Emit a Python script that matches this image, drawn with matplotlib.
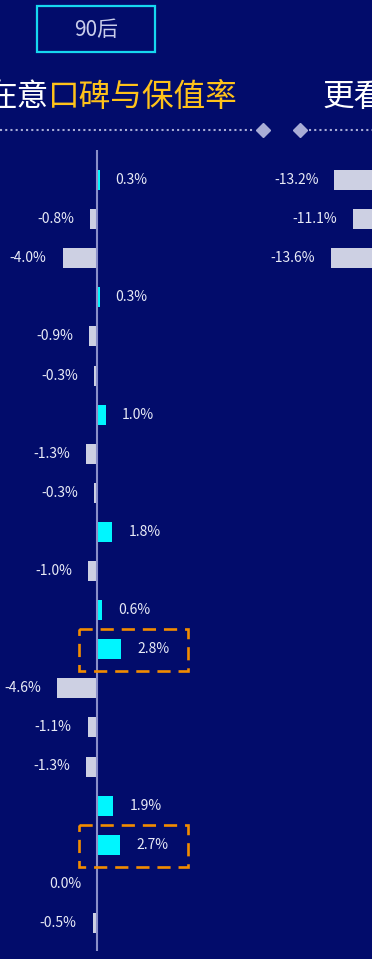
import matplotlib
matplotlib.use("Agg")
import matplotlib.pyplot as plt
from matplotlib.patches import Rectangle
from matplotlib.lines import Line2D
import numpy as np

plt.rcParams['font.family'] = ['Noto Sans CJK SC', 'DejaVu Sans']

# ---- data -------------------------------------------------------------
left_values = [0.3, -0.8, -4.0, 0.3, -0.9, -0.3, 1.0, -1.3, -0.3, 1.8,
               -1.0, 0.6, 2.8, -4.6, -1.1, -1.3, 1.9, 2.7, 0.0, -0.5]
right_values = [-13.2, -11.1, -13.6]          # visible rows of the second panel
highlight_rows = [12, 17]
badge_text = "90后"
title_plain = "在意"
title_accent = "口碑与保值率"
title_next = "更看"

# ---- style ------------------------------------------------------------
W, H, DPI = 372, 959, 100
BG = "#020c6b"
POS = "#00f6ff"
NEG = "#cdd0e3"
AXIS = "#8a8fc9"
LABEL = "#e8eaf6"
GOLD = "#ffc21a"
ORANGE = "#f28c00"
DOT = "#a9add6"

PX_PER_PCT = 8.6
ROW0, ROW_STEP = 180.0, 39.1
ZERO_L, ZERO_R = 97.0, 448.0

fig = plt.figure(figsize=(W / DPI, H / DPI), dpi=DPI, facecolor=BG)


def px_to_row(py):
    return (py - ROW0) / ROW_STEP


def make_axes(x0_px, x1_px, zero_px):
    ax = fig.add_axes([x0_px / W, 0, (x1_px - x0_px) / W, 1])
    ax.set_facecolor("none")
    ax.set_xlim((x0_px - zero_px) / PX_PER_PCT, (x1_px - zero_px) / PX_PER_PCT)
    ax.set_ylim(px_to_row(H), px_to_row(0))
    ax.axis("off")
    return ax


def draw_panel(ax, values, axis_line=True):
    rows = np.arange(len(values))
    colors = [POS if v > 0 else NEG for v in values]
    ax.barh(rows, values, height=20 / ROW_STEP, color=colors, linewidth=0, zorder=2)
    off = 16 / PX_PER_PCT
    for r, v in zip(rows, values):
        if v > 0:
            ax.text(v + off, r, f"{v:.1f}%", ha="left", va="center",
                    color=LABEL, fontsize=10, zorder=4)
        else:
            ax.text(v - off, r, f"{v:.1f}%", ha="right", va="center",
                    color=LABEL, fontsize=10, zorder=4)
    if axis_line:
        ax.vlines(0, px_to_row(150), px_to_row(951), color=AXIS, lw=1.5, zorder=3)


ax_left = make_axes(0, 200, ZERO_L)
draw_panel(ax_left, left_values)

# dashed highlight frames
for r in highlight_rows:
    x0 = (79 - ZERO_L) / PX_PER_PCT
    x1 = (188 - ZERO_L) / PX_PER_PCT
    y0 = r - 20 / ROW_STEP
    y1 = r + 22 / ROW_STEP
    ax_left.add_patch(Rectangle((x0, y0), x1 - x0, y1 - y0, fill=False,
                                edgecolor=ORANGE, lw=1.9, linestyle=(0, (5, 3)),
                                zorder=5, clip_on=False))

ax_right = make_axes(200, W, ZERO_R)
draw_panel(ax_right, right_values, axis_line=False)

# ---- header -----------------------------------------------------------
def fx(px):
    return px / W


def fy(py):
    return 1 - py / H


fig.add_artist(Rectangle((fx(37), fy(52)), fx(155) - fx(37), fy(6) - fy(52),
                         transform=fig.transFigure, fill=False,
                         edgecolor="#16d8f0", lw=1.6))
fig.text(fx(96), fy(30), badge_text, ha="center", va="center",
         color="#c9cdea", fontsize=15)

fig.text(fx(-14), fy(97), title_plain, ha="left", va="center",
         color="white", fontsize=22.8)
fig.text(fx(48), fy(97), title_accent, ha="left", va="center",
         color=GOLD, fontsize=22.8)
fig.text(fx(322), fy(97), title_next, ha="left", va="center",
         color="white", fontsize=22.8)

# dotted separator with diamonds
yline = fy(130)
fig.add_artist(Line2D([fx(0), fx(254)], [yline, yline], transform=fig.transFigure,
                      color=DOT, lw=1.5, linestyle=(0, (1, 1.5))))
fig.add_artist(Line2D([fx(309), fx(W)], [yline, yline], transform=fig.transFigure,
                      color=DOT, lw=1.5, linestyle=(0, (1, 1.5))))
for cx in (263, 300):
    fig.add_artist(Line2D([fx(cx)], [yline], transform=fig.transFigure,
                          marker="D", markersize=7.5, color=DOT, linestyle="none"))

fig.savefig("out.png", dpi=DPI, facecolor=BG)
